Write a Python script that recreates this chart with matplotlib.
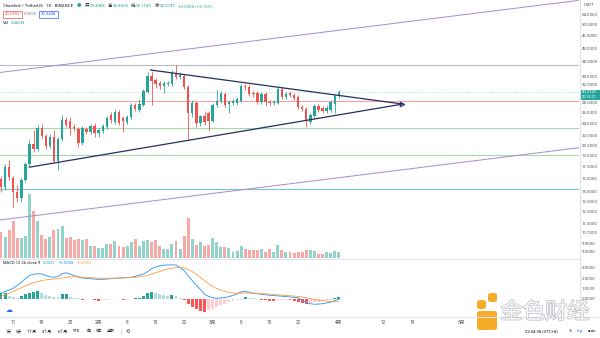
import numpy as np
import pandas as pd
import matplotlib
matplotlib.use('Agg')
import matplotlib.pyplot as plt
from matplotlib.patches import FancyBboxPatch
from matplotlib.lines import Line2D
from matplotlib.ticker import NullLocator
import matplotlib.patheffects as pe

plt.rcParams['font.family'] = ['Noto Sans CJK SC', 'DejaVu Sans']

W, H = 600, 338

# ---- data (LINK/USDT daily) ----
dates = pd.date_range('2021-01-08', periods=84, freq='D')

opens = [15.9, 15.0, 17.4, 16.1, 14.5, 13.9, 15.8, 17.8, 20.7, 19.9,
         23.3, 21.9, 20.4, 21.8, 18.2, 21.4, 24.7, 24.5, 23.5, 23.1,
         20.8, 23.1, 22.6, 23.6, 22.4, 22.8, 23.4, 25.6, 24.3, 26.2,
         25.1, 24.3, 25.2, 27.6, 26.6, 27.6, 30.4, 34.2, 33.2, 32.5,
         31.8, 32.2, 32.2, 35.0, 33.9, 34.2, 31.5, 26.0, 28.0, 24.1,
         25.4, 26.0, 24.5, 27.6, 28.4, 29.9, 27.8, 28.0, 28.0, 28.4,
         31.8, 31.5, 30.2, 30.2, 28.2, 29.9, 28.2, 28.0, 28.0, 31.1,
         29.3, 30.2, 29.7, 29.3, 27.2, 26.8, 24.3, 25.4, 27.4, 27.0,
         26.4, 26.6, 27.8, 29.4468]
highs = [16.3, 17.8, 18.4, 16.3, 15.2, 16.1, 18.1, 21.3, 22.9, 23.8,
         24.0, 22.3, 22.3, 22.9, 21.8, 25.6, 25.2, 25.2, 24.0, 23.4,
         23.6, 23.4, 24.0, 24.1, 23.3, 24.0, 25.4, 26.2, 26.8, 26.6,
         25.4, 25.6, 28.0, 28.0, 28.8, 31.1, 35.3, 35.6, 33.7, 33.0,
         33.0, 33.0, 35.8, 37.1, 35.3, 34.7, 32.0, 28.6, 28.4, 25.6,
         26.4, 26.4, 28.0, 30.8, 30.6, 30.4, 28.6, 28.8, 29.3, 32.2,
         32.2, 32.0, 30.6, 30.6, 30.4, 30.4, 28.6, 28.6, 31.5, 31.5,
         30.4, 30.6, 30.2, 29.7, 27.6, 27.2, 26.0, 27.8, 27.8, 27.4,
         27.6, 28.6, 29.9, 30.8006]
lows = [14.5, 14.7, 15.8, 13.0, 13.4, 13.4, 15.6, 17.6, 19.5, 19.6,
        21.6, 19.9, 20.1, 17.9, 17.1, 21.1, 23.4, 22.1, 22.8, 20.2,
        20.5, 22.3, 22.3, 21.8, 21.8, 22.4, 23.1, 24.1, 24.0, 23.8,
        22.6, 24.0, 24.9, 26.4, 26.2, 27.4, 30.2, 27.6, 31.3, 31.1,
        30.2, 31.8, 31.8, 33.4, 33.4, 31.1, 21.3, 25.2, 23.4, 23.6,
        23.8, 22.8, 24.3, 27.2, 28.0, 27.2, 26.0, 27.6, 27.6, 28.2,
        30.8, 29.5, 29.3, 27.8, 27.8, 27.4, 27.6, 27.6, 27.8, 28.8,
        28.8, 29.3, 28.6, 26.8, 26.4, 23.4, 24.0, 25.1, 26.2, 26.0,
        26.0, 26.2, 26.0, 29.1143]
closes = [15.0, 17.4, 16.2, 14.5, 13.9, 15.8, 17.8, 20.7, 19.9, 23.3,
          21.9, 20.4, 21.8, 18.2, 21.4, 24.7, 23.8, 23.3, 23.3, 20.8,
          23.3, 22.6, 23.6, 22.4, 22.9, 23.6, 25.1, 24.7, 26.2, 24.1,
          24.5, 25.2, 27.6, 26.8, 27.8, 30.6, 34.2, 33.0, 32.2, 31.8,
          32.5, 32.5, 35.0, 33.9, 34.4, 31.5, 26.0, 28.0, 24.1, 25.4,
          24.3, 24.5, 27.6, 28.4, 30.2, 27.6, 28.2, 28.4, 28.8, 31.8,
          31.5, 29.9, 29.9, 28.2, 29.9, 28.2, 28.0, 28.2, 31.1, 29.3,
          29.9, 29.7, 29.1, 27.2, 26.8, 24.5, 25.6, 27.4, 26.6, 26.4,
          27.0, 28.2, 29.5, 30.3747]
volumes = [14.1, 11.6, 15.4, 20.1, 11.0, 10.8, 12.3, 35.4, 25.6, 20.1,
           12.8, 10.5, 11.6, 15.4, 16.0, 17.4, 11.0, 11.6, 10.1, 10.5,
           10.1, 10.5, 6.8, 6.4, 5.5, 5.5, 7.7, 7.7, 9.1, 6.4,
           6.1, 6.4, 8.6, 10.6, 6.4, 9.1, 9.9, 8.6, 9.9, 6.4,
           5.0, 5.0, 7.7, 9.1, 5.0, 12.1, 22.0, 10.5, 7.3, 8.6,
           6.8, 7.3, 11.0, 8.8, 6.1, 6.1, 5.3, 3.5, 4.0, 6.8,
           5.0, 4.6, 4.6, 4.6, 5.0, 3.1, 5.0, 3.5, 7.3, 4.6,
           3.5, 3.3, 2.8, 3.5, 3.5, 4.6, 4.6, 4.0, 2.2, 2.2,
           3.5, 2.8, 4.0, 3.465]  # millions

macd = [0.55, 0.7, 0.85, 1.02, 1.3, 1.6, 1.95, 2.25, 2.35, 2.4,
        2.38, 2.25, 2.12, 2.07, 2.15, 2.4, 2.5, 2.38, 2.22, 2.1,
        2.0, 1.97, 1.93, 1.9, 1.87, 1.88, 1.9, 1.93, 1.97, 2.0,
        2.02, 2.05, 2.07, 2.15, 2.28, 2.38, 2.6, 2.9, 3.05, 3.15,
        3.22, 3.24, 3.25, 3.24, 3.0, 2.7, 2.2, 1.75, 1.3, 0.9,
        0.45, 0.25, 0.12, 0.07, 0.1, 0.15, 0.22, 0.35, 0.5, 0.68,
        0.72, 0.65, 0.56, 0.5, 0.45, 0.4, 0.36, 0.32, 0.3, 0.27,
        0.23, 0.2, 0.16, 0.12, -0.1, -0.35, -0.45, -0.5, -0.48, -0.45,
        -0.38, -0.3, -0.15, -0.0088]
signal = [0.25, 0.4, 0.55, 0.72, 0.9, 1.08, 1.25, 1.42, 1.55, 1.65,
          1.75, 1.82, 1.87, 1.9, 1.94, 2.0, 2.06, 2.1, 2.12, 2.11,
          2.08, 2.05, 2.02, 2.0, 1.98, 1.97, 1.97, 1.97, 1.98, 1.99,
          2.0, 2.02, 2.04, 2.07, 2.12, 2.18, 2.27, 2.38, 2.5, 2.62,
          2.74, 2.84, 2.92, 2.98, 3.0, 2.95, 2.8, 2.6, 2.35, 2.05,
          1.75, 1.45, 1.2, 1.0, 0.85, 0.72, 0.63, 0.57, 0.54, 0.55,
          0.57, 0.57, 0.55, 0.53, 0.51, 0.49, 0.46, 0.43, 0.4, 0.37,
          0.34, 0.31, 0.28, 0.25, 0.2, 0.12, 0.03, -0.05, -0.12, -0.17,
          -0.21, -0.23, -0.24, -0.2369]
hist = [0.54, 0.54, 0.29, 0.22, 0.13, 0.29, 0.44, 0.6, 0.7, 0.79,
        0.6, 0.38, 0.29, 0.22, 0.16, 0.44, 0.44, 0.22, 0.13, 0.05,
        -0.05, 0.02, 0.02, -0.1, -0.15, -0.1, -0.05, -0.03, 0.02, -0.03,
        -0.06, -0.05, 0.02, 0.05, 0.1, 0.29, 0.6, 0.7, 0.6, 0.45,
        0.38, 0.3, 0.35, 0.25, 0.05, -0.05, -0.5, -0.75, -0.95, -1.1,
        -1.2, -1.05, -0.95, -0.76, -0.6, -0.45, -0.3, -0.22, -0.12, -0.05,
        0.15, 0.12, 0.08, 0.02, -0.05, -0.1, -0.18, -0.22, -0.12, -0.08,
        -0.06, -0.08, -0.15, -0.25, -0.35, -0.45, -0.4, -0.3, -0.25, -0.15,
        -0.1, -0.05, 0.05, 0.2281]

# horizontal level drawings
levels = [37.0, 28.5, 23.3, 19.0, 14.8]
level_colors = ['#b8bbc4', '#f5a3a1', '#a8d8aa', '#a8d8aa', '#7cc8c6']
# trend lines (day index, price)
tri_upper = [(36.76, 35.75), (98.5, 27.8)]
tri_lower = [(6.95, 17.4), (98.5, 27.75)]
chan_upper = [(-0.25, 35.1), (142.0, 59.9)]
chan_lower = [(-0.25, 11.77), (142.0, 20.1)]

price_ticks = [54, 50, 46, 42, 38, 34, 32, 28, 26, 24, 22, 20.5, 19, 17.5,
               16, 14.5, 13.5, 12.5, 11.5, 10.7, 9.9, 9.3]
macd_ticks = [3, 2, 1, 0]
tick_dates = ['2021-01-11', '2021-01-18', '2021-01-25', '2021-02-01', '2021-02-08',
              '2021-02-15', '2021-02-22', '2021-03-01', '2021-03-08', '2021-03-15',
              '2021-03-22', '2021-04-01', '2021-04-12', '2021-04-19', '2021-05-01']
tick_labels = ['11', '18', '25', '2月', '8', '15', '22', '3月', '8', '15', '22',
               '4月', '12', '19', '5月']

UP, DN = '#26a69a', '#ef5350'
TXT = '#131722'
AX = '#50535e'
LAT = ['Roboto', 'DejaVu Sans']
CJK = ['Roboto', 'Noto Sans CJK SC', 'DejaVu Sans']


def fy(py):
    return 1 - py / H


xpos = np.array((dates - dates[0]).days, dtype=float)
o, h, l, c = map(np.array, (opens, highs, lows, closes))
up = c >= o
cols = np.where(up, UP, DN)

fig = plt.figure(figsize=(W / 100, H / 100), dpi=100)
fig.patch.set_facecolor('white')
rend = fig.canvas.get_renderer()


def row(x0, y, parts, size):
    # lay texts out one after another, each with its own gap after it
    x = x0
    for t, col, gap in parts:
        tt = fig.text(x / W, fy(y), t, color=col, fontsize=size, va='center', family=CJK)
        x = tt.get_window_extent(renderer=rend).x1 + gap
    return x


xl = (-1 / 4.07, 578 / 4.07)

ax = fig.add_axes([0, fy(258), 579 / W, 258 / H])
vax = ax.twinx()
ax.set_zorder(vax.get_zorder() + 1)
ax.patch.set_visible(False)

# volume overlay
vcols = np.where(up, '#92d3cc', '#f7a9a7')
vax.bar(xpos, volumes, width=0.72, color=vcols, linewidth=0)
vax.set_ylim(0, 142)
vax.set_xlim(*xl)
vax.axis('off')

ax.set_yscale('log')
ax.set_ylim(8.88, 60.05)
ax.set_xlim(*xl)

for lv, lc in zip(levels, level_colors):
    ax.axhline(lv, color=lc, lw=0.8, zorder=1)
ax.axhline(closes[-1], color=UP, lw=0.5, ls=(0, (1, 2)), alpha=0.6, zorder=1)

for seg in (chan_upper, chan_lower):
    ax.plot([p[0] for p in seg], [p[1] for p in seg], color='#a58bd0', lw=0.7, zorder=2)

# candles
ax.vlines(xpos, l, h, colors=cols, lw=0.6, zorder=3)
bot = np.minimum(o, c)
ht = np.maximum(np.abs(c - o), bot * 0.004)
ax.bar(xpos, ht, bottom=bot, width=0.58, color=cols, linewidth=0, zorder=4)

for seg in (tri_upper, tri_lower):
    ax.plot([p[0] for p in seg], [p[1] for p in seg], color='#242f62', lw=0.9, zorder=5)
ax.plot(tri_upper[1][0], (tri_upper[1][1] + tri_lower[1][1]) / 2, marker='>',
        color='#242f62', ms=3.2, mfc='none', mew=0.8, zorder=6)

for s in ax.spines.values():
    s.set_visible(False)
ax.yaxis.tick_right()
ax.yaxis.set_minor_locator(NullLocator())
ax.set_yticks(price_ticks)
ax.set_yticklabels(['%.4f' % t for t in price_ticks], family=LAT)
ax.tick_params(axis='y', length=0, pad=2.2, labelsize=3.2, labelcolor=AX)
ax.set_xticks([])

# MACD pane
mx = fig.add_axes([0, fy(316), 579 / W, 57 / H])
hcols = []
for i, v in enumerate(hist):
    prev = hist[i - 1] if i > 0 else v
    if v >= 0:
        hcols.append('#26a69a' if v >= prev else '#b2dfdb')
    else:
        hcols.append('#ff5252' if v < prev else '#ffcdd2')
mx.bar(xpos, hist, width=0.72, color=hcols, linewidth=0)
mx.plot(xpos, macd, color='#2196f3', lw=0.6)
mx.plot(xpos, signal, color='#ff9a45', lw=0.6)
mx.set_xlim(*xl)
mx.set_ylim(-1.62, 3.81)
for s in mx.spines.values():
    s.set_visible(False)
mx.yaxis.tick_right()
mx.set_yticks(macd_ticks)
mx.set_yticklabels(['%.4f' % t for t in macd_ticks], family=LAT)
mx.tick_params(axis='y', length=0, pad=2.2, labelsize=3.2, labelcolor=AX)
tpos = [(pd.Timestamp(d) - dates[0]).days for d in tick_dates]
mx.set_xticks(tpos)
mx.set_xticklabels(tick_labels, family=CJK)
mx.tick_params(axis='x', length=0, pad=3.2, labelsize=3.4, labelcolor=AX)
mx.text(2, -1.05, '\u2601', color='#2962ff', fontsize=5, family=['DejaVu Sans'],
        ha='center', va='center')

# pane borders
sep = '#e0e3eb'
fig.add_artist(Line2D([0, 579 / W], [fy(258.5)] * 2, color=sep, lw=0.8))
fig.add_artist(Line2D([0, 1], [fy(316.5)] * 2, color=sep, lw=0.8))
fig.add_artist(Line2D([579.5 / W] * 2, [fy(0), fy(316.5)], color=sep, lw=0.8))

# right axis price label
fig.add_artist(FancyBboxPatch((580 / W, fy(99.5)), 19.5 / W, 10 / H,
                              boxstyle='square,pad=0', fc=UP, ec='none'))
fig.text(589.7 / W, fy(92), '30.3747', color='white', fontsize=3.0, ha='center',
         va='center', family=LAT)
fig.text(589.7 / W, fy(97), '20:35:21', color='white', fontsize=2.8, ha='center',
         va='center', family=LAT)
fig.text(584 / W, fy(4.5), 'USDT', color=AX, fontsize=3.1, ha='left', va='center', family=LAT)

# legend rows
row(3, 6, [('Chainlink / TetherUS · 1D · BINANCE', TXT, 4), ('●', UP, 3),
           ('开', TXT, 0.6), ('29.4468', UP, 2.5), ('高', TXT, 0.6), ('30.8006', UP, 2.5),
           ('低', TXT, 0.6), ('29.1143', UP, 2.5), ('收', TXT, 0.6), ('30.3747', UP, 2.5),
           ('+0.9280 (+3.15%)', UP, 0)], 3.2)

fig.add_artist(FancyBboxPatch((3 / W, fy(17.5)), 19 / W, 7 / H, boxstyle='square,pad=0',
                              fc='white', ec='#ef5350', lw=0.5))
fig.text(12.5 / W, fy(14), '30.2493', color='#ef5350', fontsize=3.0, ha='center',
         va='center', family=LAT)
fig.text(30.5 / W, fy(14), '0.0955', color='#787b86', fontsize=3.0, ha='center',
         va='center', family=LAT)
fig.add_artist(FancyBboxPatch((39 / W, fy(17.5)), 19 / W, 7 / H, boxstyle='square,pad=0',
                              fc='white', ec='#2962ff', lw=0.5))
fig.text(48.5 / W, fy(14), '30.3448', color='#2962ff', fontsize=3.0, ha='center',
         va='center', family=LAT)
row(3, 23, [('Vol', TXT, 2), ('3.465M', UP, 0)], 3.0)

row(3, 263.5, [('MACD 12 26 close 9', TXT, 2.5), ('0.2281', '#22a0b8', 2.5),
               ('\u22120.0088', '#2196f3', 2.5), ('\u22120.2369', '#ff9a45', 0)], 3.0)

# bottom toolbar
for t, xx in [('1天', 9), ('5天', 19), ('1个月', 32), ('3个月', 47), ('6个月', 63),
              ('YTD', 77), ('1年', 89), ('5年', 99), ('全部', 111)]:
    fig.text(xx / W, fy(331.5), t, color=TXT, fontsize=2.9, ha='center', va='center',
             family=CJK)
fig.add_artist(Line2D([121 / W] * 2, [fy(328), fy(335)], color='#d1d4dc', lw=0.5))
fig.text(128 / W, fy(331.5), '⟲', color=TXT, fontsize=3.6, ha='center', va='center',
         family=['DejaVu Sans'])
fig.text(541 / W, fy(331), '22:04:38 (UTC+8)', color=TXT, fontsize=3.1, ha='center',
         va='center', family=LAT)
fig.text(570 / W, fy(331), '%', color=TXT, fontsize=3.1, ha='center', va='center', family=LAT)
fig.text(580 / W, fy(331), 'log', color='#2962ff', fontsize=3.1, ha='center', va='center',
         family=LAT)
fig.text(592 / W, fy(331), 'auto', color=TXT, fontsize=3.1, ha='center', va='center',
         family=LAT)

# watermark
for (bx, by, bw, bh) in [(477, 300, 9, 9), (488, 293, 9, 9), (477, 311, 20, 19)]:
    fig.add_artist(FancyBboxPatch((bx / W, fy(by + bh)), bw / W, bh / H,
                                  boxstyle='round,pad=0,rounding_size=0.006',
                                  fc='#f6a81c', ec='none', alpha=0.95))
fig.text(545 / W, fy(312), '金色财经', color='white', fontsize=16, ha='center', va='center',
         alpha=0.9, path_effects=[pe.withStroke(linewidth=1.0, foreground='#b4b7bf')])

fig.savefig('out.png', dpi=100, facecolor='white')
